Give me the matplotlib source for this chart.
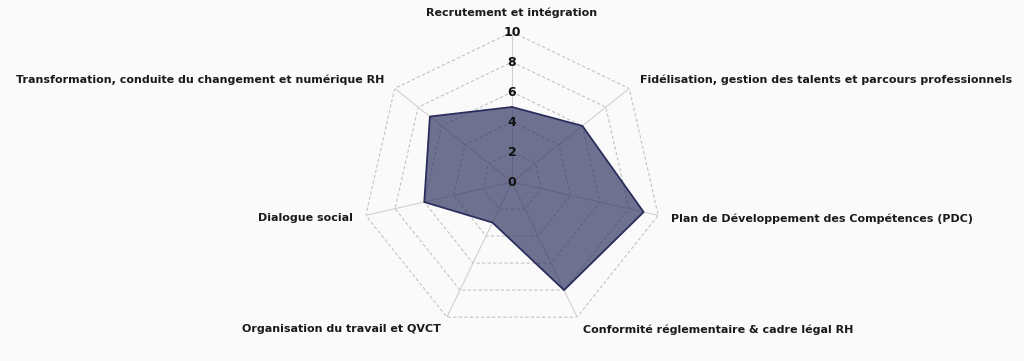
import numpy as np
import matplotlib.pyplot as plt

# radar data
categories = [
    "Recrutement et intégration",
    "Fidélisation, gestion des talents et parcours professionnels",
    "Plan de Développement des Compétences (PDC)",
    "Conformité réglementaire & cadre légal RH",
    "Organisation du travail et QVCT",
    "Dialogue social",
    "Transformation, conduite du changement et numérique RH",
]
scores = [5, 6, 9, 8, 3, 6, 7]
rings = [2, 4, 6, 8, 10]
tick_labels = ["0", "2", "4", "6", "8", "10"]

BG = "#fafafa"
EDGE = "#2b2e5c"

plt.rcParams['font.family'] = ['DejaVu Sans']

n = len(categories)
angles = np.linspace(0, 2 * np.pi, n, endpoint=False)
closed = np.append(angles, angles[0])

fig = plt.figure(figsize=(10.24, 3.61), dpi=100, facecolor=BG)
ax = fig.add_axes([362 / 1024, 29 / 361, 300 / 1024, 300 / 361], projection='polar')
ax.set_facecolor(BG)
ax.set_theta_zero_location('N')
ax.set_theta_direction(-1)
ax.set_ylim(0, 10)
ax.grid(False)
ax.spines['polar'].set_visible(False)
ax.set_xticks([])
ax.set_yticks([])

# polygon rings (dashed) and spokes (solid)
for r in rings:
    ax.plot(closed, [r] * (n + 1), color="#c4c4c4", lw=0.8, ls=(0, (3, 2)), zorder=1)
for a in angles:
    ax.plot([a, a], [0, 10], color="#d0d0d0", lw=0.8, zorder=1)

vals = scores + scores[:1]
ax.fill(closed, vals, color=EDGE, alpha=0.67, lw=0, zorder=2)
ax.plot(closed, vals, color=EDGE, lw=1.3, zorder=3)

# scale labels along the top axis
for i, t in enumerate(tick_labels):
    ax.text(0, i * 2, t, ha='center', va='center', fontsize=9,
            fontweight='bold', color='#111111', zorder=4)

# category labels
for a, lab in zip(angles, categories):
    s = np.sin(a)
    if abs(s) < 1e-6:
        ha, va = 'center', 'bottom'
    elif s > 0:
        ha, va = 'left', 'center'
    else:
        ha, va = 'right', 'center'
    ax.text(a, 10.9, lab, ha=ha, va=va, fontsize=8.0, fontweight='bold',
            color='#1a1a1a', clip_on=False)

fig.savefig("out.png", dpi=100, facecolor=BG)
